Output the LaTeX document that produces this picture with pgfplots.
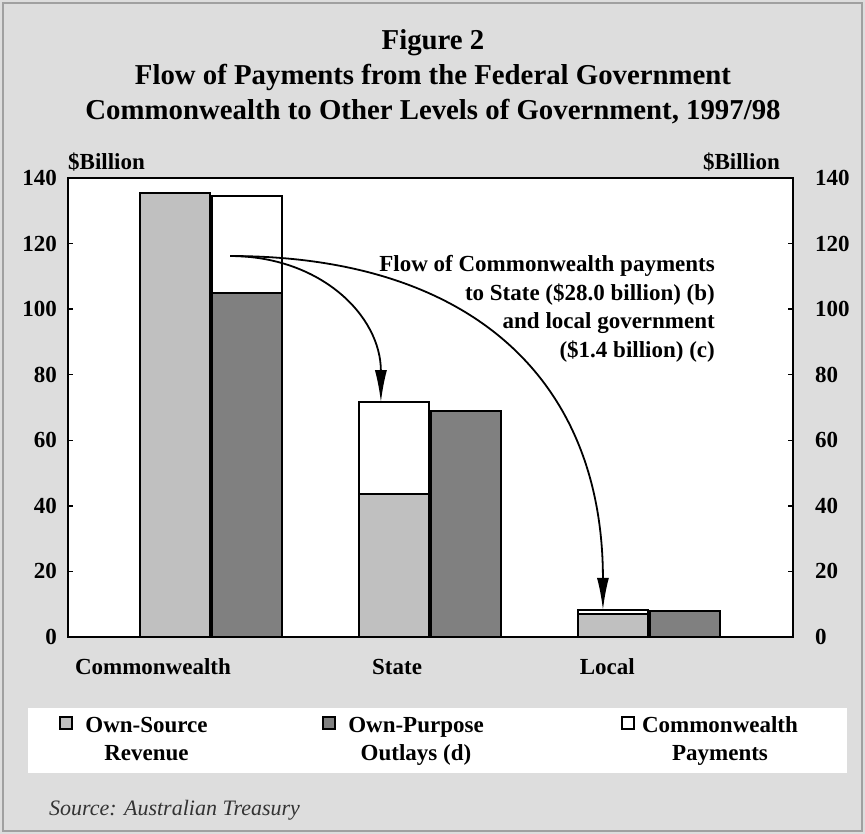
\documentclass[border=0pt]{standalone}
\usepackage{fontspec}
\setmainfont{Liberation Serif}
\usepackage{pgfplots}
\pgfplotsset{compat=1.18}
\usetikzlibrary{arrows.meta}
\definecolor{bg}{HTML}{DDDDDD}
\definecolor{framegray}{HTML}{A0A0A0}
\definecolor{lightbar}{HTML}{C0C0C0}
\definecolor{darkbar}{HTML}{808080}
\definecolor{srcgray}{HTML}{333333}
\newcommand\lab{\fontsize{23}{28}\selectfont\bfseries}
\newcommand\ttl{\fontsize{28.8}{35}\selectfont\bfseries}
\begin{document}
\begin{tikzpicture}
\useasboundingbox (0pt,0pt) rectangle (865pt,834pt);
\fill[bg] (0pt,0pt) rectangle (865pt,834pt);
\draw[framegray, line width=2pt] (3pt,3pt) rectangle (862pt,831pt);
% title
\node[font=\ttl, anchor=base, inner sep=0pt] at (433pt,784pt) {Figure 2};
\node[font=\ttl, anchor=base, inner sep=0pt] at (433pt,749pt) {Flow of Payments from the Federal Government};
\node[font=\ttl, anchor=base, inner sep=0pt] at (433pt,714pt) {Commonwealth to Other Levels of Government, 1997/98};
% unit labels
\node[font=\lab, anchor=base west, inner sep=0pt] at (68pt,664pt) {\$Billion};
\node[font=\lab, anchor=base east, inner sep=0pt] at (780pt,664pt) {\$Billion};

\begin{axis}[
  at={(68pt,197pt)}, anchor=south west, scale only axis,
  width=725pt, height=459pt,
  xmin=-0.653, xmax=2.658, ymin=0, ymax=140,
  ytick={0,20,...,140},
  xtick={-0.265,0.85,1.81},
  xticklabels={Commonwealth,State,Local},
  x tick style={draw=none},
  y tick style={black, line width=1.5pt},
  major tick length=5pt,
  axis line style={line width=2.5pt},
  axis background/.style={fill=white},
  /pgf/number format/assume math mode=true,
  tick label style={font=\lab},
  yticklabel style={inner sep=0pt, xshift=-11pt},
  xticklabel style={anchor=base, inner sep=0pt, yshift=-33pt},
  axis on top,
  ybar, bar width=0.32,
]
% Commonwealth payments (top of stack: base + payments)
\addplot[fill=white, draw=black, line width=2pt, bar shift=0pt]
  coordinates {(0.165,134.4) (0.835,71.6) (1.835,8.3)};
% Own-source revenue
\addplot[fill=lightbar, draw=black, line width=2pt, bar shift=0pt]
  coordinates {(-0.165,135.4) (0.835,43.6) (1.835,7.0)};
% Own-purpose outlays
\addplot[fill=darkbar, draw=black, line width=2pt, bar shift=0pt]
  coordinates {(0.165,105.0) (1.165,68.9) (2.165,7.9)};
% flow arrows
\draw[line width=1.8pt, -{Latex[length=32pt,width=12pt]}]
  (axis cs:0.087,116.2) .. controls (axis cs:0.5,116.2) and (axis cs:0.776,98) .. (axis cs:0.776,71.6);
\draw[line width=1.8pt, -{Latex[length=32pt,width=12pt]}]
  (axis cs:0.087,116.2) .. controls (axis cs:1.19,116.2) and (axis cs:1.79,78.4) .. (axis cs:1.79,8.3);
\end{axis}

\begin{axis}[
  at={(68pt,197pt)}, anchor=south west, scale only axis,
  width=725pt, height=459pt,
  xmin=-0.653, xmax=2.658, ymin=0, ymax=140,
  ytick={0,20,...,140},
  axis y line*=right, axis x line=none,
  y axis line style={draw=none},
  y tick style={draw=none},
  /pgf/number format/assume math mode=true,
  tick label style={font=\lab},
  yticklabel style={inner sep=0pt, xshift=22pt},
]
\end{axis}

% annotation
\node[font=\lab, anchor=base east, inner sep=0pt] at (715pt,562pt) {Flow of Commonwealth payments};
\node[font=\lab, anchor=base east, inner sep=0pt] at (715pt,533.5pt) {to State (\$28.0 billion) (b)};
\node[font=\lab, anchor=base east, inner sep=0pt] at (715pt,505pt) {and local government};
\node[font=\lab, anchor=base east, inner sep=0pt] at (715pt,476.5pt) {(\$1.4 billion) (c)};

% legend
\fill[white] (28pt,61pt) rectangle (847pt,126pt);
\filldraw[fill=lightbar, draw=black, line width=2pt] (60pt,105pt) rectangle (72pt,117pt);
\node[font=\lab, anchor=base, inner sep=0pt] at (146.5pt,101pt) {Own-Source};
\node[font=\lab, anchor=base, inner sep=0pt] at (146.5pt,73pt) {Revenue};
\filldraw[fill=darkbar, draw=black, line width=2pt] (323pt,105pt) rectangle (335pt,117pt);
\node[font=\lab, anchor=base, inner sep=0pt] at (416pt,101pt) {Own-Purpose};
\node[font=\lab, anchor=base, inner sep=0pt] at (416pt,73pt) {Outlays (d)};
\filldraw[fill=white, draw=black, line width=2pt] (622pt,105pt) rectangle (634pt,117pt);
\node[font=\lab, anchor=base, inner sep=0pt] at (720pt,101pt) {Commonwealth};
\node[font=\lab, anchor=base, inner sep=0pt] at (720pt,73pt) {Payments};

% source
\node[font=\fontsize{22}{26}\selectfont\itshape, text=srcgray, anchor=base west, inner sep=0pt] at (49pt,18pt) {Source: Australian Treasury};
\end{tikzpicture}
\end{document}
